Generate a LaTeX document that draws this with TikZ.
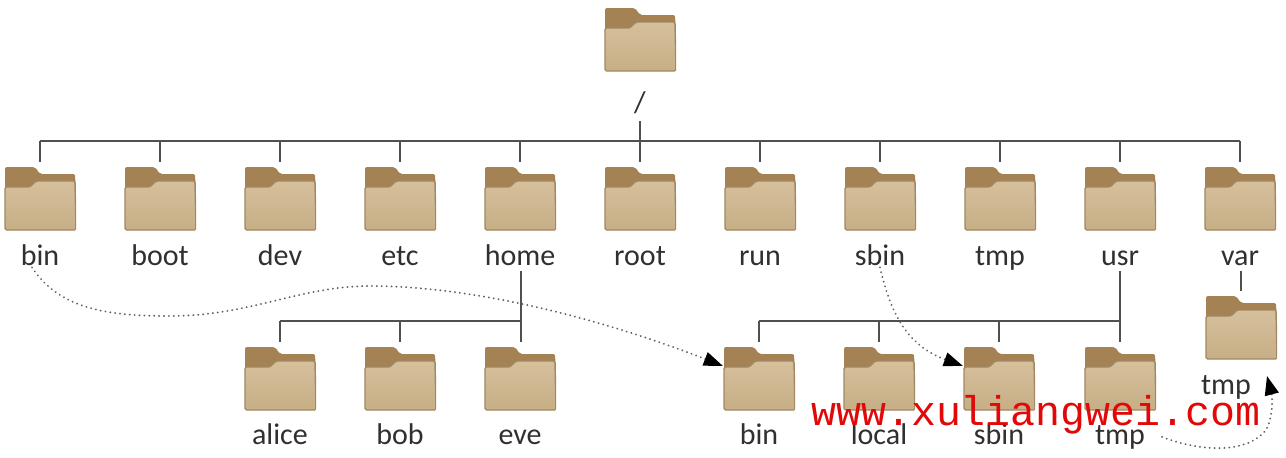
\documentclass[tikz,border=0pt]{standalone}
\usepackage{fontspec}
\usepackage{xcolor}
\usetikzlibrary{arrows.meta}
\setmainfont{Carlito}
\newfontfamily\markfont{Liberation Mono}
\definecolor{FolderBack}{RGB}{164,130,84}
\definecolor{FolderEdge}{RGB}{160,136,98}
\definecolor{FolderTop}{RGB}{214,192,156}
\definecolor{FolderLow}{RGB}{198,174,134}
\definecolor{TreeLine}{RGB}{80,80,80}
\definecolor{LabelInk}{RGB}{48,48,48}
\definecolor{MarkRed}{RGB}{226,8,8}

\begin{document}
\begin{tikzpicture}[
                x=1pt, y=-1pt,
                % Folder icon
                folder/.style={rectangle, inner sep=0pt, minimum width=72pt, minimum height=64pt,
                    path picture={
                        \fill[FolderBack, rounded corners=2pt] ([shift={(1,0)}]path picture bounding box.north west)
                            -- ++(30,0) -- ++(5,7) -- ++(35,0) -- ++(1,20) -- ++(-71,0) -- cycle;
                        \shade[top color=FolderTop, bottom color=FolderLow, draw=FolderEdge, line width=1.4pt, rounded corners=1.5pt]
                            ([shift={(1,20)}]path picture bounding box.north west)
                            -- ++(25,0) -- ++(6,-6) -- ++(39,0) -- ++(1,49) -- ++(-71,0) -- cycle;
                    }},
                % Tree lines
                edge/.style={draw=TreeLine, line width=1.8pt},
                drop/.style={edge, shorten >=5pt},
                % Labels
                dirlabel/.style={font=\fontsize{30}{32}\selectfont, text=LabelInk, anchor=base, inner sep=2pt},
                % Dotted links with arrow
                linkto/.style={draw=TreeLine!90, line width=2pt, line cap=round, dash pattern=on 0.1pt off 4.8pt,
                    -{Triangle[length=19pt, width=14pt, black]}},
                watermark/.style={font=\markfont\fontsize{41.6}{44}\selectfont, text=MarkRed, anchor=base west, inner sep=0pt}
            ]
                \path[fill=white] (0,0) rectangle (1286,458);
                \useasboundingbox (0,0) rectangle (1286,458);

                % --- FOLDERS ---
                % Root
                \node[folder] (top) at (640, 40) {};
                \node[dirlabel] (ltop) at (640, 112) {/};

                % Level 2
                \node[folder] (bin) at (40, 199) {};
                \node[folder] (boot) at (160, 199) {};
                \node[folder] (dev) at (280, 199) {};
                \node[folder] (etc) at (400, 199) {};
                \node[folder] (home) at (520, 199) {};
                \node[folder] (root) at (640, 199) {};
                \node[folder] (run) at (760, 199) {};
                \node[folder] (sbin) at (880, 199) {};
                \node[folder] (tmp) at (1000, 199) {};
                \node[folder] (usr) at (1120, 199) {};
                \node[folder] (var) at (1240, 199) {};

                \node[dirlabel] (lbin) at (40, 265) {bin};
                \node[dirlabel] (lboot) at (160, 265) {boot};
                \node[dirlabel] (ldev) at (280, 265) {dev};
                \node[dirlabel] (letc) at (400, 265) {etc};
                \node[dirlabel] (lhome) at (520, 265) {home};
                \node[dirlabel] (lroot) at (640, 265) {root};
                \node[dirlabel] (lrun) at (760, 265) {run};
                \node[dirlabel] (lsbin) at (880, 265) {sbin};
                \node[dirlabel] (ltmp) at (1000, 265) {tmp};
                \node[dirlabel] (lusr) at (1120, 265) {usr};
                \node[dirlabel] (lvar) at (1240, 265) {var};

                % Level 3
                \node[folder] (alice) at (280, 379) {};
                \node[folder] (bob) at (400, 379) {};
                \node[folder] (eve) at (520, 379) {};
                \node[folder] (ubin) at (759, 379) {};
                \node[folder] (ulocal) at (879, 379) {};
                \node[folder] (usbin) at (999, 379) {};
                \node[folder] (utmp) at (1120, 379) {};
                \node[folder] (vtmp) at (1241, 328) {};

                \node[dirlabel] (lalice) at (280, 444) {alice};
                \node[dirlabel] (lbob) at (400, 444) {bob};
                \node[dirlabel] (leve) at (520, 444) {eve};
                \node[dirlabel] (lubin) at (759, 444) {bin};
                \node[dirlabel] (lulocal) at (879, 444) {local};
                \node[dirlabel] (lusbin) at (999, 444) {sbin};
                \node[dirlabel] (lutmp) at (1120, 444) {tmp};
                \node[dirlabel] (lvtmp) at (1226, 394) {tmp};

                % --- LINES ---
                \coordinate (rootstem) at (640, 121);
                \coordinate (rootbar) at (640, 141);
                \coordinate (homestem) at (521, 271);
                \coordinate (homebar) at (521, 321);
                \coordinate (usrstem) at (1120, 271);
                \coordinate (usrbar) at (1120, 321);
                \coordinate (varstem) at (1241, 271);

                \draw[drop] (rootstem) -- (root.north);
                \draw[edge] (bin.north |- rootbar) -- (var.north |- rootbar);
                \draw[drop] (bin.north |- rootbar) -- (bin.north); \draw[drop] (boot.north |- rootbar) -- (boot.north);
                \draw[drop] (dev.north |- rootbar) -- (dev.north); \draw[drop] (etc.north |- rootbar) -- (etc.north);
                \draw[drop] (home.north |- rootbar) -- (home.north); \draw[drop] (run.north |- rootbar) -- (run.north);
                \draw[drop] (sbin.north |- rootbar) -- (sbin.north); \draw[drop] (tmp.north |- rootbar) -- (tmp.north);
                \draw[drop] (usr.north |- rootbar) -- (usr.north); \draw[drop] (var.north |- rootbar) -- (var.north);

                \draw[drop] (homestem) -- (homestem |- eve.north);
                \draw[edge] (alice.north |- homebar) -- (homebar);
                \draw[drop] (alice.north |- homebar) -- (alice.north); \draw[drop] (bob.north |- homebar) -- (bob.north);

                \draw[drop] (usrstem) -- (utmp.north);
                \draw[edge] (ubin.north |- usrbar) -- (usrbar);
                \draw[drop] (ubin.north |- usrbar) -- (ubin.north); \draw[drop] (ulocal.north |- usrbar) -- (ulocal.north);
                \draw[drop] (usbin.north |- usrbar) -- (usbin.north);

                \draw[drop] (varstem) -- (vtmp.north);

                % --- DOTTED LINKS ---
                \coordinate (vtmpin) at (1267, 376);
                \draw[linkto] ([xshift=-8pt]lbin.south) .. controls (60, 310) and (110, 316) .. (170, 316)
                    .. controls (250, 316) and (300, 286) .. (370, 286)
                    .. controls (480, 286) and (610, 322) .. (ubin.160);
                \draw[linkto] (lsbin.south) .. controls (890, 310) and (905, 345) .. (usbin.160);
                \draw[linkto] ([xshift=15pt]lutmp.east) .. controls (1195, 450) and (1245, 456) .. (1266, 430)
                    .. controls (1274, 415) and (1272, 395) .. (vtmpin);

                % Watermark
                \node[watermark] (wmark) at (811, 425) {www.xuliangwei.com};

            \end{tikzpicture}
\end{document}
